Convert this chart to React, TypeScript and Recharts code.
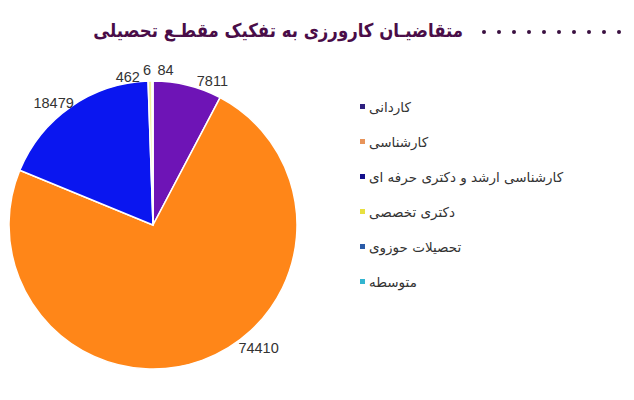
import { PieChart, Pie, Cell, Legend } from "recharts";

const categories = [
  "کاردانی",
  "کارشناسی",
  "کارشناسی ارشد و دکتری حرفه ای",
  "دکتری تخصصی",
  "تحصیلات حوزوی",
  "متوسطه",
];
const applicants = [7811, 74410, 18479, 462, 6, 84];

const colors = ["#6E14B6", "#FF8618", "#0A16F0", "#F2EE9C", "#1F4E99", "#2EB6D4"];
const legendColors = ["#2E2080", "#E8945A", "#14108C", "#E8E040", "#2A5BA8", "#33B5D0"];
// Excel's "best fit" labels sit off the mid angle, so nudge a few of them
const labelNudge: [number, number][] = [
  [21, 11],
  [51, -27],
  [-8, 9],
  [-22, 12],
  [-5, 5],
  [13, 5],
];

const title = "متقاضیـان کارورزی به تفکیک مقطـع تحصیلی";
const dotCount = 10;

const data = categories.map((name, i) => ({ name, value: applicants[i] }));

const RAD = Math.PI / 180;

function renderLabel(props: any) {
  const { cx, cy, midAngle, outerRadius, index, value } = props;
  const r = outerRadius + 16;
  const x = cx + r * Math.cos(-midAngle * RAD) + labelNudge[index][0];
  const y = cy + r * Math.sin(-midAngle * RAD) + labelNudge[index][1];
  return (
    <text
      x={x}
      y={y}
      textAnchor="middle"
      dominantBaseline="central"
      fill="#333"
      fontSize={14.5}
      fontFamily="Liberation Sans, Arial, sans-serif"
    >
      {value}
    </text>
  );
}

function renderLegend() {
  return (
    <div style={{ fontFamily: "DejaVu Sans, sans-serif", fontSize: 13.5, color: "#333" }}>
      {categories.map((c, i) => (
        <div key={c} style={{ height: 35, display: "flex", alignItems: "center" }}>
          <span
            style={{
              width: 5,
              height: 5,
              background: legendColors[i],
              display: "inline-block",
              marginRight: 4,
            }}
          />
          <span dir="rtl">{c}</span>
        </div>
      ))}
    </div>
  );
}

export default function App() {
  return (
    <div style={{ position: "absolute", left: 0, top: 0, width: 634, height: 400, background: "#fff" }}>
      <div
        dir="rtl"
        style={{
          position: "absolute",
          right: 171,
          top: 19,
          fontFamily: "DejaVu Sans, sans-serif",
          fontWeight: "bold",
          fontSize: 19,
          color: "#4A0D48",
          whiteSpace: "nowrap",
          transform: "scaleX(0.87)",
          transformOrigin: "right center",
        }}
      >
        {title}
      </div>
      <div style={{ position: "absolute", left: 476, top: 22, display: "flex" }}>
        {Array.from({ length: dotCount }, (_, i) => (
          <span
            key={i}
            style={{
              width: 15,
              display: "flex",
              justifyContent: "center",
            }}
          >
            <span style={{ width: 4, height: 4, borderRadius: 2, background: "#3A1040", marginTop: 8 }} />
          </span>
        ))}
      </div>
      <PieChart width={634} height={400} margin={{ top: 0, right: 0, bottom: 0, left: 0 }}>
        <Pie
          data={data}
          dataKey="value"
          nameKey="name"
          cx={153}
          cy={225}
          outerRadius={144}
          startAngle={90}
          endAngle={-270}
          stroke="#fff"
          strokeWidth={1.5}
          label={renderLabel}
          labelLine={false}
          isAnimationActive={false}
        >
          {data.map((d, i) => (
            <Cell key={d.name} fill={colors[i]} />
          ))}
        </Pie>
        <Legend
          content={renderLegend}
          layout="vertical"
          wrapperStyle={{ position: "absolute", left: 360, top: 89, width: 260 }}
        />
      </PieChart>
    </div>
  );
}
